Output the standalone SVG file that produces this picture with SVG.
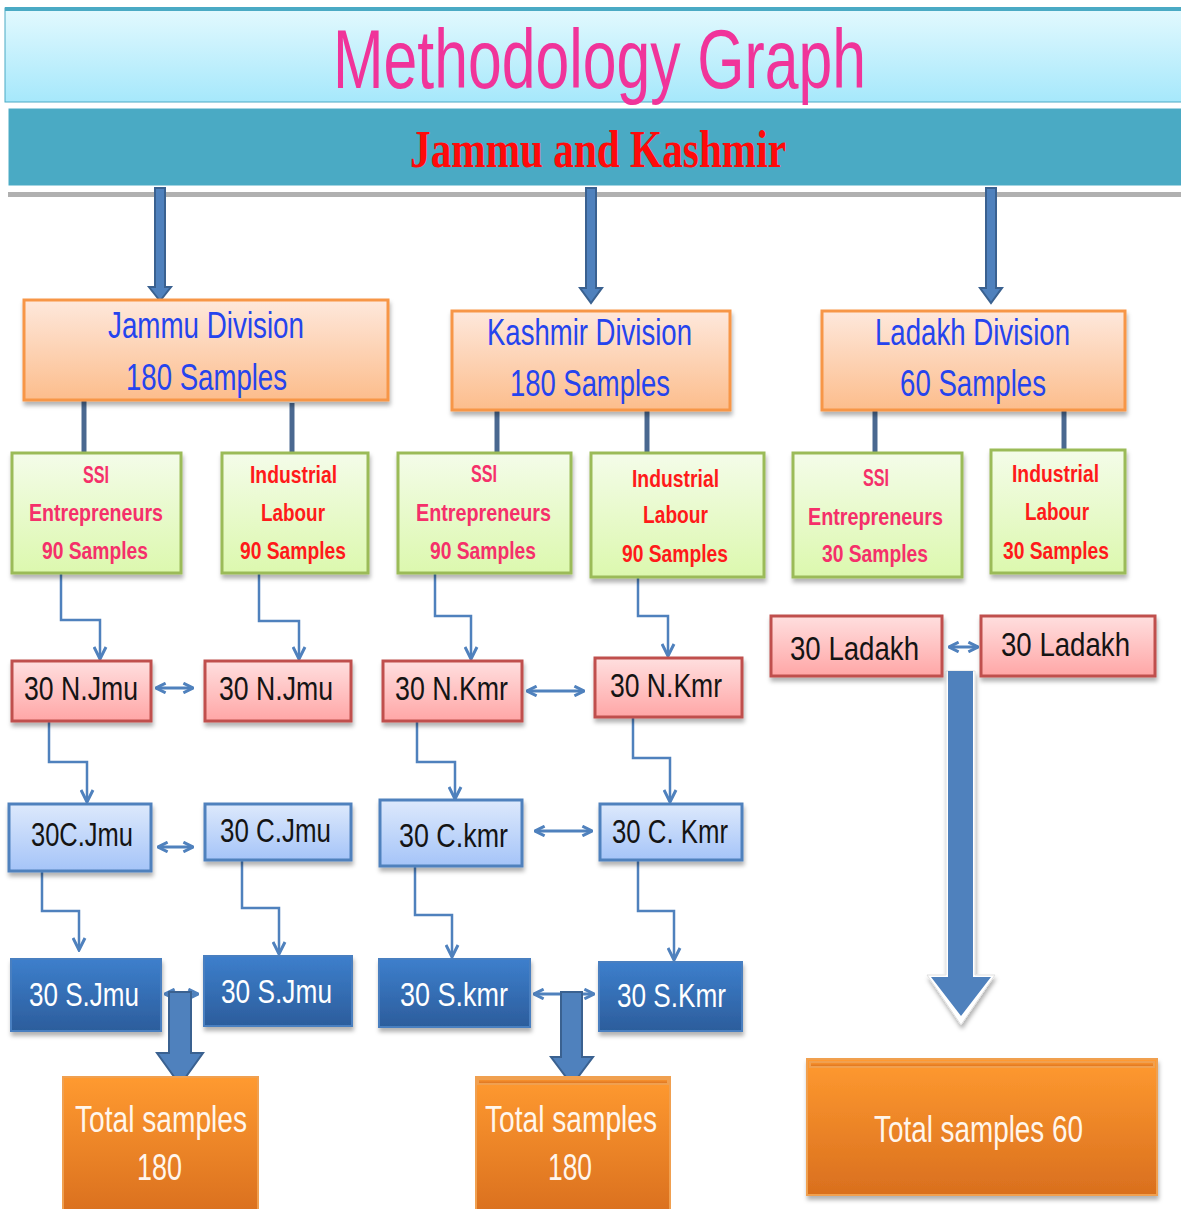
<svg xmlns="http://www.w3.org/2000/svg" width="1181" height="1209" viewBox="0 0 1181 1209">
<defs>
<linearGradient id="gTitle" x1="0" y1="0" x2="0" y2="1"><stop offset="0" stop-color="#e3f9fe"/><stop offset="1" stop-color="#a6e8fb"/></linearGradient>
<linearGradient id="gDiv" x1="0" y1="0" x2="0" y2="1"><stop offset="0" stop-color="#fee8dc"/><stop offset="1" stop-color="#fcbd8c"/></linearGradient>
<linearGradient id="gGreen" x1="0" y1="0" x2="0" y2="1"><stop offset="0" stop-color="#f4fce9"/><stop offset="1" stop-color="#dcf8ae"/></linearGradient>
<linearGradient id="gRed" x1="0" y1="0" x2="0" y2="1"><stop offset="0" stop-color="#ffdfdf"/><stop offset="1" stop-color="#ffa6a6"/></linearGradient>
<linearGradient id="gLB" x1="0" y1="0" x2="0" y2="1"><stop offset="0" stop-color="#dde9fc"/><stop offset="1" stop-color="#a5c4f8"/></linearGradient>
<linearGradient id="gDB" x1="0" y1="0" x2="0" y2="1"><stop offset="0" stop-color="#3d7fcc"/><stop offset="1" stop-color="#2c5d9c"/></linearGradient>
<linearGradient id="gOr" x1="0" y1="0" x2="0" y2="1"><stop offset="0" stop-color="#ff9a30"/><stop offset="1" stop-color="#d96f1e"/></linearGradient>
<filter id="sh" x="-10%" y="-10%" width="130%" height="140%"><feDropShadow dx="1" dy="4" stdDeviation="2" flood-color="#000" flood-opacity="0.3"/></filter>
<marker id="chev" viewBox="0 0 10 10" refX="9" refY="5" markerWidth="6" markerHeight="6" orient="auto-start-reverse"><path d="M1,1 L9,5 L1,9" fill="none" stroke="#4f81bd" stroke-width="2"/></marker>
<marker id="chev2" viewBox="0 0 10 10" refX="9" refY="5" markerWidth="4" markerHeight="4" orient="auto-start-reverse"><path d="M1,1 L9,5 L1,9" fill="none" stroke="#4f81bd" stroke-width="2.5"/></marker>
</defs>
<style>
.t{font-family:"Liberation Sans",Arial,sans-serif;}
.div rect{fill:url(#gDiv);stroke:#f79646;stroke-width:3;}
.div text{fill:#2544ee;font-size:36px;}
.grn rect{fill:url(#gGreen);stroke:#9bbb59;stroke-width:3;}
.grn text{font-size:24px;font-weight:bold;}
.ssi text{fill:#f5306a;}
.ind text{fill:#ff1a1a;}
.nb rect{fill:url(#gRed);stroke:#c0504d;stroke-width:3;}
.nb text{fill:#141414;font-size:34px;}
.cb rect{fill:url(#gLB);stroke:#4f81bd;stroke-width:3;}
.cb text{fill:#141414;font-size:34px;}
.sb rect{fill:url(#gDB);stroke:#4a7fc0;stroke-width:2;}
.sb text{fill:#ffffff;font-size:34px;}
.tot rect{fill:url(#gOr);stroke:#f0a050;stroke-width:2;}
.tot text{fill:#fff6ec;font-size:36px;}
.el{fill:none;stroke:#4f81bd;stroke-width:2.5;marker-end:url(#chev);}
.dbl{fill:none;stroke:#4f81bd;stroke-width:3;marker-start:url(#chev2);marker-end:url(#chev2);}
.vl{stroke:#4a6890;stroke-width:5;}
.ba{fill:#4f81bd;stroke:#3a6190;stroke-width:2;}
</style>

<g id="title">
<rect x="5" y="8" width="1180" height="94" fill="url(#gTitle)" stroke="#4aaac4" stroke-width="1"/>
<rect x="5" y="7" width="1180" height="4" fill="#4aaac4"/>
<text class="t" x="333" y="88" font-size="84" fill="#f0349a" textLength="533" lengthAdjust="spacingAndGlyphs">Methodology Graph</text>
</g>
<g id="state">
<rect x="8" y="192" width="1175" height="5" fill="#b0b0b0"/>
<rect x="7" y="107" width="1180" height="80" fill="#4aaac4" stroke="#ffffff" stroke-width="3"/>
<text x="410" y="167" font-family="'Liberation Serif','Times New Roman',serif" font-weight="bold" font-size="52" fill="#ff0a0a" textLength="376" lengthAdjust="spacingAndGlyphs">Jammu and Kashmir</text>
</g>

<g id="connectors">
<polygon class="ba" points="155,188 165,188 165,287 171,287 160,301 149,287 155,287"/>
<polygon class="ba" points="586,188 596,188 596,288 602,288 591,303 580,288 586,288"/>
<polygon class="ba" points="986,188 996,188 996,288 1002,288 991,303 980,288 986,288"/>
<line class="vl" x1="84" y1="400" x2="84" y2="455"/>
<line class="vl" x1="292" y1="403" x2="292" y2="462"/>
<line class="vl" x1="497" y1="405" x2="497" y2="460"/>
<line class="vl" x1="647" y1="407" x2="647" y2="465"/>
<line class="vl" x1="875" y1="405" x2="875" y2="458"/>
<line class="vl" x1="1064" y1="405" x2="1064" y2="460"/>
<path class="el" d="M61,573 V620 H100 V659"/>
<path class="el" d="M259,573 V621 H299 V659"/>
<path class="el" d="M435,573 V616 H471 V659"/>
<path class="el" d="M638,577 V616 H668 V656"/>
<path class="el" d="M49,721 V762 H87 V802"/>
<path class="el" d="M417,721 V762 H455 V799"/>
<path class="el" d="M633,717 V758 H670 V802"/>
<path class="el" d="M42,871 V911 H79 V950"/>
<path class="el" d="M242,860 V908 H279 V954"/>
<path class="el" d="M415,866 V915 H452 V957"/>
<path class="el" d="M638,860 V911 H674 V960"/>
<path class="dbl" d="M156,688 H193"/>
<path class="dbl" d="M527,691 H584"/>
<path class="dbl" d="M949,647 H978"/>
<path class="dbl" d="M158,847 H193"/>
<path class="dbl" d="M535,831 H592"/>
<path class="dbl" d="M165,994 H198"/>
<path class="dbl" d="M534,994 H594"/>
<polygon class="ba" points="169,992 191,992 191,1053 203,1053 180,1085 157,1053 169,1053"/>
<polygon class="ba" points="561,992 582,992 582,1057 593,1057 572,1085 551,1057 561,1057"/>
<g filter="url(#sh)">
<polygon points="946,671 975,671 975,975 995,975 961,1025 927,975 946,975" fill="#ffffff" stroke="#e0e0e0" stroke-width="1"/>
<polygon points="948,671 973,671 973,977 991,977 961,1016 931,977 948,977" fill="#4f81bd"/>
</g>
</g>

<g id="jammu-div" class="div t"><rect x="24" y="300" width="364" height="100" filter="url(#sh)"/>
<text x="108" y="338" textLength="196" lengthAdjust="spacingAndGlyphs">Jammu Division</text>
<text x="126" y="390" textLength="161" lengthAdjust="spacingAndGlyphs">180 Samples</text></g>
<g id="kashmir-div" class="div t"><rect x="452" y="311" width="278" height="99" filter="url(#sh)"/>
<text x="487" y="345" textLength="205" lengthAdjust="spacingAndGlyphs">Kashmir Division</text>
<text x="510" y="396" textLength="160" lengthAdjust="spacingAndGlyphs">180 Samples</text></g>
<g id="ladakh-div" class="div t"><rect x="822" y="311" width="303" height="99" filter="url(#sh)"/>
<text x="875" y="345" textLength="195" lengthAdjust="spacingAndGlyphs">Ladakh Division</text>
<text x="900" y="396" textLength="146" lengthAdjust="spacingAndGlyphs">60 Samples</text></g>

<g id="j-ssi" class="grn ssi t"><rect x="12" y="453" width="169" height="120" filter="url(#sh)"/>
<text x="96" y="483" text-anchor="middle" textLength="26" lengthAdjust="spacingAndGlyphs">SSI</text>
<text x="29" y="521" textLength="134" lengthAdjust="spacingAndGlyphs">Entrepreneurs</text>
<text x="42" y="559" textLength="106" lengthAdjust="spacingAndGlyphs">90 Samples</text></g>
<g id="j-ind" class="grn ind t"><rect x="222" y="453" width="146" height="120" filter="url(#sh)"/>
<text x="250" y="483" textLength="87" lengthAdjust="spacingAndGlyphs">Industrial</text>
<text x="261" y="521" textLength="64" lengthAdjust="spacingAndGlyphs">Labour</text>
<text x="240" y="559" textLength="106" lengthAdjust="spacingAndGlyphs">90 Samples</text></g>
<g id="k-ssi" class="grn ssi t"><rect x="398" y="453" width="173" height="120" filter="url(#sh)"/>
<text x="484" y="482" text-anchor="middle" textLength="26" lengthAdjust="spacingAndGlyphs">SSI</text>
<text x="416" y="521" textLength="135" lengthAdjust="spacingAndGlyphs">Entrepreneurs</text>
<text x="430" y="559" textLength="106" lengthAdjust="spacingAndGlyphs">90 Samples</text></g>
<g id="k-ind" class="grn ind t"><rect x="591" y="453" width="173" height="124" filter="url(#sh)"/>
<text x="632" y="487" textLength="87" lengthAdjust="spacingAndGlyphs">Industrial</text>
<text x="643" y="523" textLength="65" lengthAdjust="spacingAndGlyphs">Labour</text>
<text x="622" y="562" textLength="106" lengthAdjust="spacingAndGlyphs">90 Samples</text></g>
<g id="l-ssi" class="grn ssi t"><rect x="793" y="453" width="169" height="124" filter="url(#sh)"/>
<text x="876" y="486" text-anchor="middle" textLength="26" lengthAdjust="spacingAndGlyphs">SSI</text>
<text x="808" y="525" textLength="135" lengthAdjust="spacingAndGlyphs">Entrepreneurs</text>
<text x="822" y="562" textLength="106" lengthAdjust="spacingAndGlyphs">30 Samples</text></g>
<g id="l-ind" class="grn ind t"><rect x="991" y="450" width="134" height="123" filter="url(#sh)"/>
<text x="1012" y="482" textLength="87" lengthAdjust="spacingAndGlyphs">Industrial</text>
<text x="1025" y="520" textLength="64" lengthAdjust="spacingAndGlyphs">Labour</text>
<text x="1003" y="559" textLength="106" lengthAdjust="spacingAndGlyphs">30 Samples</text></g>

<g id="n-jmu-1" class="nb t"><rect x="12" y="661" width="139" height="60" filter="url(#sh)"/><text x="24" y="700" textLength="114" lengthAdjust="spacingAndGlyphs">30 N.Jmu</text></g>
<g id="n-jmu-2" class="nb t"><rect x="205" y="661" width="146" height="60" filter="url(#sh)"/><text x="219" y="700" textLength="114" lengthAdjust="spacingAndGlyphs">30 N.Jmu</text></g>
<g id="n-kmr-1" class="nb t"><rect x="383" y="661" width="139" height="60" filter="url(#sh)"/><text x="395" y="700" textLength="113" lengthAdjust="spacingAndGlyphs">30 N.Kmr</text></g>
<g id="n-kmr-2" class="nb t"><rect x="595" y="658" width="147" height="59" filter="url(#sh)"/><text x="610" y="697" textLength="112" lengthAdjust="spacingAndGlyphs">30 N.Kmr</text></g>
<g id="ladakh-1" class="nb t"><rect x="771" y="616" width="171" height="60" filter="url(#sh)"/><text x="790" y="660" textLength="129" lengthAdjust="spacingAndGlyphs">30 Ladakh</text></g>
<g id="ladakh-2" class="nb t"><rect x="981" y="616" width="174" height="60" filter="url(#sh)"/><text x="1001" y="656" textLength="129" lengthAdjust="spacingAndGlyphs">30 Ladakh</text></g>

<g id="c-jmu-1" class="cb t"><rect x="9" y="804" width="142" height="67" filter="url(#sh)"/><text x="31" y="846" textLength="102" lengthAdjust="spacingAndGlyphs">30C.Jmu</text></g>
<g id="c-jmu-2" class="cb t"><rect x="205" y="804" width="146" height="56" filter="url(#sh)"/><text x="220" y="842" textLength="111" lengthAdjust="spacingAndGlyphs">30 C.Jmu</text></g>
<g id="c-kmr-1" class="cb t"><rect x="380" y="800" width="142" height="66" filter="url(#sh)"/><text x="399" y="847" textLength="109" lengthAdjust="spacingAndGlyphs">30 C.kmr</text></g>
<g id="c-kmr-2" class="cb t"><rect x="600" y="804" width="142" height="56" filter="url(#sh)"/><text x="612" y="843" textLength="116" lengthAdjust="spacingAndGlyphs">30 C. Kmr</text></g>

<g id="s-jmu-1" class="sb t"><rect x="11" y="959" width="150" height="72" filter="url(#sh)"/><text x="29" y="1006" textLength="110" lengthAdjust="spacingAndGlyphs">30 S.Jmu</text></g>
<g id="s-jmu-2" class="sb t"><rect x="204" y="956" width="148" height="70" filter="url(#sh)"/><text x="221" y="1003" textLength="111" lengthAdjust="spacingAndGlyphs">30 S.Jmu</text></g>
<g id="s-kmr-1" class="sb t"><rect x="379" y="959" width="151" height="68" filter="url(#sh)"/><text x="400" y="1006" textLength="108" lengthAdjust="spacingAndGlyphs">30 S.kmr</text></g>
<g id="s-kmr-2" class="sb t"><rect x="599" y="962" width="143" height="69" filter="url(#sh)"/><text x="617" y="1007" textLength="109" lengthAdjust="spacingAndGlyphs">30 S.Kmr</text></g>

<g id="total-jammu" class="tot t"><rect x="63" y="1077" width="195" height="140"/>
<text x="75" y="1132" textLength="172" lengthAdjust="spacingAndGlyphs">Total samples</text>
<text x="137" y="1180" textLength="45" lengthAdjust="spacingAndGlyphs">180</text></g>
<g id="total-kashmir" class="tot t"><rect x="476" y="1077" width="194" height="140"/>
<rect x="478" y="1079" width="190" height="5" fill="#ffd870" stroke="none"/>
<text x="485" y="1132" textLength="172" lengthAdjust="spacingAndGlyphs">Total samples</text>
<text x="548" y="1180" textLength="44" lengthAdjust="spacingAndGlyphs">180</text></g>
<g id="total-ladakh" class="tot t"><rect x="807" y="1059" width="350" height="136" filter="url(#sh)"/>
<rect x="810" y="1062" width="344" height="5" fill="#ffd870" stroke="none"/>
<text x="874" y="1142" textLength="209" lengthAdjust="spacingAndGlyphs">Total samples 60</text></g>
</svg>
